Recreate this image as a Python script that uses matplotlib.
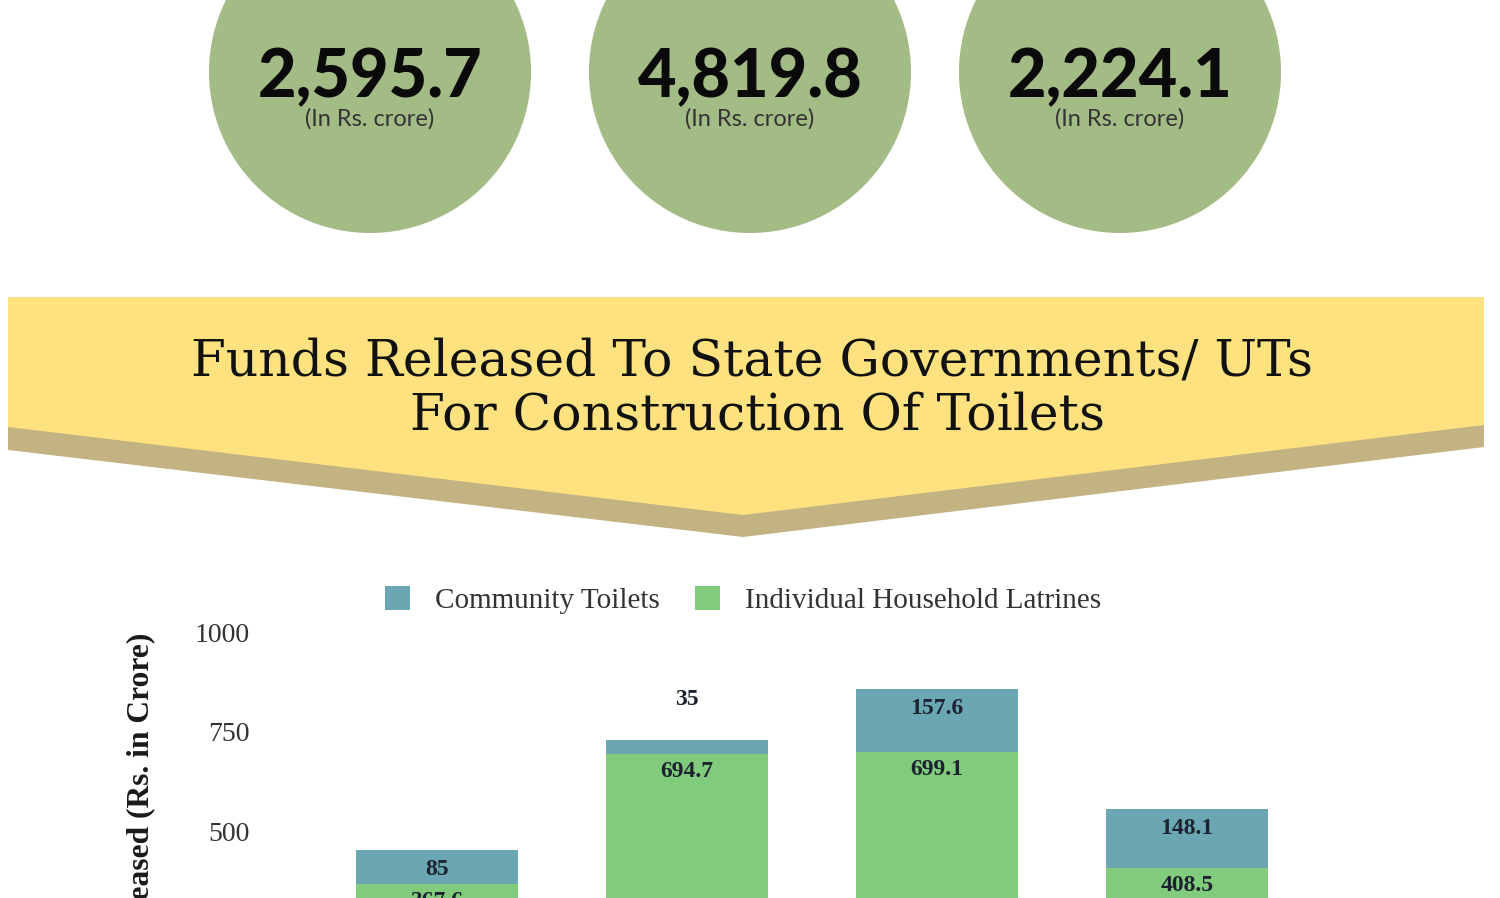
"""
Fondos liberados para construcción de baños
"""
import matplotlib
matplotlib.use('Agg')
import matplotlib.pyplot as plt
from matplotlib.patches import Circle, Polygon

# Datos
totales = ['2,595.7', '4,819.8', '2,224.1']
unidad = '(In Rs. crore)'
categorias = ['A', 'B', 'C', 'D']
latrinas = [367.6, 694.7, 699.1, 408.5]
comunitarios = [85, 35, 157.6, 148.1]
series = ['Community Toilets', 'Individual Household Latrines']
yticks = [0, 250, 500, 750, 1000]

# Colores
C_CIRC = '#a3bb84'
C_AMAR = '#fde27f'
C_SOMB = '#c3b282'
C_COM = '#6aa7b2'
C_IHL = '#80cb7c'

W, H = 1500, 898
fig = plt.figure(figsize=(W / 100, H / 100), dpi=100)

# Fondo en pixeles
bg = fig.add_axes([0, 0, 1, 1])
bg.set_xlim(0, W)
bg.set_ylim(H, 0)
bg.axis('off')

# Circulos superiores
cx = [370, 750, 1120]
for x, t in zip(cx, totales):
    bg.add_patch(Circle((x, 72), 161, color=C_CIRC, lw=0))
    bg.text(x, 97, t, ha='center', va='baseline', fontsize=48,
            family='Lato', fontweight='black', color='#0a0a0a')
    bg.text(x, 126, unidad, ha='center', va='baseline', fontsize=17,
            family='Lato', color='#333333')

# Cinta amarilla
bg.add_patch(Polygon([(8, 297), (1484, 297), (1484, 447), (743, 537), (8, 450)],
                     closed=True, color=C_SOMB, lw=0))
bg.add_patch(Polygon([(8, 297), (1484, 297), (1484, 425), (743, 515), (8, 427)],
                     closed=True, color=C_AMAR, lw=0))
bg.text(752, 375, 'Funds Released To State Governments/ UTs', ha='center',
        va='baseline', fontsize=36.3, family='DejaVu Serif', color='#111111')
bg.text(757, 430, 'For Construction Of Toilets', ha='center',
        va='baseline', fontsize=36.3, family='DejaVu Serif', color='#111111')

# Grafico de barras (se corta abajo)
top, bot = 632, 1031
left, right = 262, 1362
ax = fig.add_axes([left / W, 1 - bot / H, (right - left) / W, (bot - top) / H])
ax.patch.set_alpha(0)
x = list(range(len(categorias)))
ax.bar(x, latrinas, width=0.65, color=C_IHL, label=series[1])
ax.bar(x, comunitarios, width=0.65, bottom=latrinas, color=C_COM, label=series[0])
ax.set_xlim(-0.7, 3.7)
ax.set_ylim(0, 1000)
ax.set_yticks(yticks)
ax.set_yticklabels([str(v) for v in yticks])
ax.set_xticks([])
ax.tick_params(axis='y', length=0, pad=9, labelsize=20, labelcolor='#333333')
for lab in ax.get_yticklabels():
    lab.set_family('Liberation Serif')
for s in ax.spines.values():
    s.set_visible(False)
ax.set_ylabel('Funds Released (Rs. in Crore)', fontsize=22.7, fontweight='bold',
              family='Liberation Serif', color='#1a1a1a')
ax.yaxis.set_label_coords(-0.097, 0.4925)

# Etiquetas de valores
lbl = dict(ha='center', fontsize=17, fontweight='bold', family='Liberation Serif',
           color='#1c2230')
for i in x:
    ax.annotate(f'{latrinas[i]:g}', (i, latrinas[i]), xytext=(0, -7),
                textcoords='offset pixels', va='top', **lbl)
    t = latrinas[i] + comunitarios[i]
    if comunitarios[i] > 60:
        ax.annotate(f'{comunitarios[i]:g}', (i, t), xytext=(0, -9),
                    textcoords='offset pixels', va='top', **lbl)
    else:
        ax.annotate(f'{comunitarios[i]:g}', (i, t), xytext=(0, 30),
                    textcoords='offset pixels', va='bottom', **lbl)

# Leyenda
h, l = ax.get_legend_handles_labels()
fig.legend(h[::-1], l[::-1], loc='center', bbox_to_anchor=(743 / W, 1 - 600 / H),
           ncol=2, frameon=False, handlelength=0.86, handleheight=0.86,
           columnspacing=1.2, handletextpad=0.86,
           prop={'family': 'Liberation Serif', 'size': 21}, labelcolor='#333333')

fig.savefig('out.png', dpi=100)
